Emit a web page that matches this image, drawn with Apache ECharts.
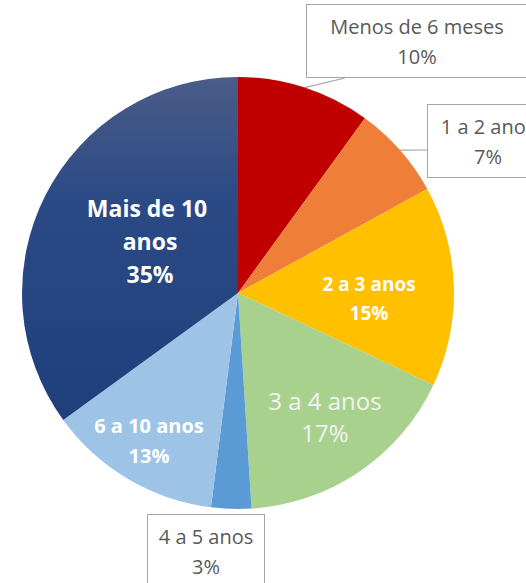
<!DOCTYPE html>
<html>
<head>
<meta charset="utf-8">
<script src="https://cdn.jsdelivr.net/npm/echarts@6/dist/echarts.min.js"></script>
<style>
  html, body { margin: 0; padding: 0; background: #fff; }
  #main { width: 526px; height: 583px; }
</style>
</head>
<body>
<div id="main"></div>
<script>
// dados do gráfico
const categorias = ["Menos de 6 meses", "1 a 2 anos", "2 a 3 anos", "3 a 4 anos", "4 a 5 anos", "6 a 10 anos", "Mais de 10 anos"];
const valores = [10, 7, 15, 17, 3, 13, 35];
const cores = ["#c00000", "#ef7f38", "#ffc000", "#a9d18e", "#5b9bd5", "#9dc3e6", null];

// onde cada rótulo fica (centro do texto)
const posRotulos = [
  [417, 41], [488, 141], [369, 298], [325, 416], [206, 551], [149, 440], [150, 241]
];
// ponto da caixa onde a linha do balão encosta
const pontaCaixa = [[345, 78], [428, 150], [222, 515], null, null, null, null];

const navy = new echarts.graphic.LinearGradient(0, 0, 0, 1, [
  { offset: 0, color: "#4b5c88" },
  { offset: 0.35, color: "#2c4a85" },
  { offset: 1, color: "#1e3f7c" }
]);

const caixa = {
  position: "outside",
  color: "#595959",
  fontFamily: "Open Sans",
  fontSize: 20,
  lineHeight: 30,
  align: "center",
  backgroundColor: "#fff",
  borderColor: "#a6a6a6",
  borderWidth: 1,
  padding: [6, 12]
};

const rotulos = [
  Object.assign({}, caixa, { width: 196 }),
  Object.assign({}, caixa, { width: 96 }),
  { position: "inside", color: "#fff", fontWeight: "bold", fontSize: 19, lineHeight: 29 },
  { position: "inside", color: "#f2f2f2", fontSize: 24, lineHeight: 32 },
  Object.assign({}, caixa, { width: 100, padding: [6, 8] }),
  { position: "inside", color: "#fff", fontWeight: "bold", fontSize: 20, lineHeight: 30 },
  { position: "inside", color: "#fff", fontWeight: "bold", fontSize: 23, lineHeight: 33, width: 150, overflow: "break" }
];

const dados = categorias.map((nome, i) => ({
  name: nome,
  value: valores[i],
  itemStyle: { color: cores[i] || navy },
  label: Object.assign({ show: true, fontFamily: "Open Sans" }, rotulos[i]),
  labelLine: { show: !!pontaCaixa[i], length: 5, length2: 5, lineStyle: { color: "#a6a6a6", width: 1.2 } }
}));

const chart = echarts.init(document.getElementById("main"), null, { renderer: "svg" });
chart.setOption({
  animation: false,
  series: [{
    type: "pie",
    center: [238, 293],
    radius: 216,
    startAngle: 90,
    clockwise: true,
    avoidLabelOverlap: false,
    itemStyle: { borderWidth: 0 },
    label: {
      formatter: p => p.name + "\n" + p.value + "%"
    },
    labelLayout: p => {
      const i = p.dataIndex;
      const res = {
        x: posRotulos[i][0],
        y: posRotulos[i][1],
        align: "center",
        verticalAlign: "middle"
      };
      if (pontaCaixa[i] && p.labelLinePoints) {
        const p0 = p.labelLinePoints[0];
        res.labelLinePoints = [p0, p0, pontaCaixa[i]];
      }
      return res;
    },
    data: dados
  }]
});
</script>
</body>
</html>
